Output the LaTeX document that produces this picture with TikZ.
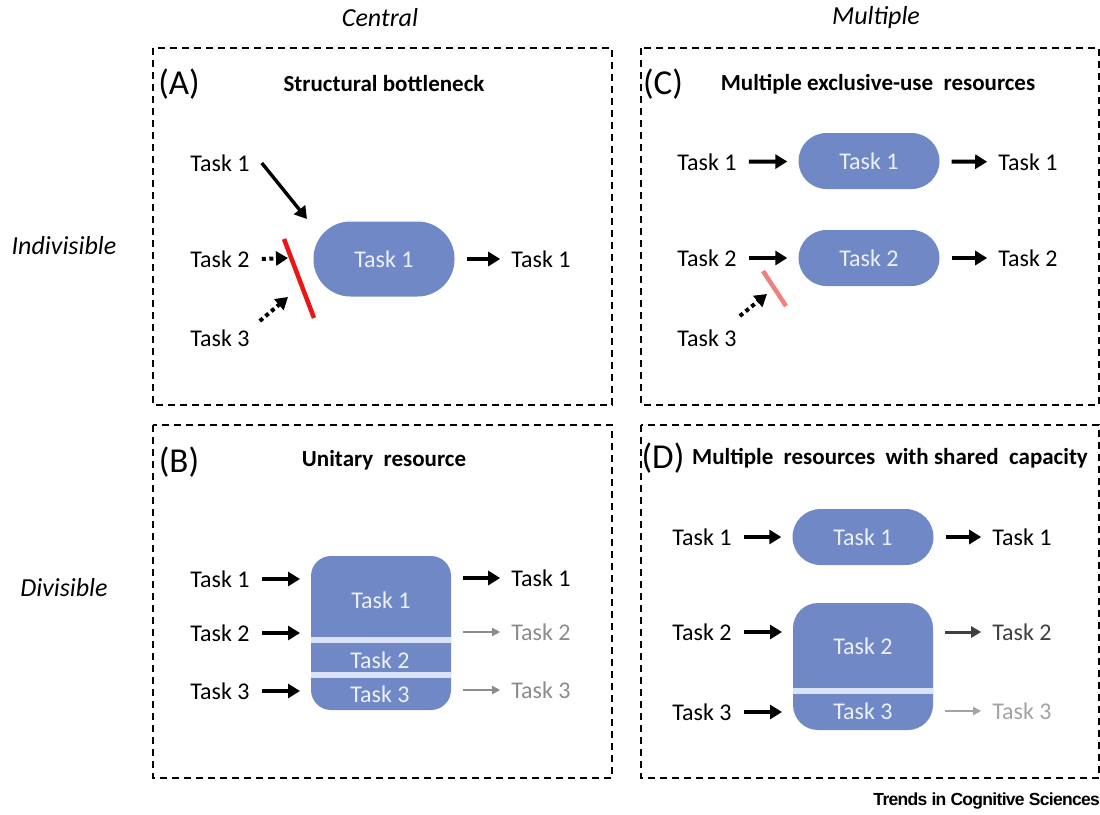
\documentclass[tikz,border=0pt]{standalone}
\usepackage{fontspec}
\setmainfont{Carlito}
\newfontfamily\trendsfont[LetterSpace=-4]{Liberation Sans}
\usetikzlibrary{arrows.meta,calc}

\definecolor{resfill}{RGB}{112,137,198}
\definecolor{resstrip}{RGB}{218,226,246}
\definecolor{restext}{RGB}{236,240,250}
\definecolor{blockred}{RGB}{236,20,20}
\definecolor{blockpink}{RGB}{240,128,128}
\definecolor{fadegray}{RGB}{140,140,140}
\definecolor{darkgray}{RGB}{64,64,64}

\tikzset{
  panel/.style={draw, line width=1.8pt, dash pattern=on 7pt off 5pt},
  tasklbl/.style={inner sep=0pt, font=\fontsize{24}{28}\selectfont},
  title/.style={inner sep=0pt, font=\fontsize{23}{27}\selectfont\bfseries},
  letter/.style={inner sep=0pt, font=\fontsize{35}{40}\selectfont},
  side/.style={inner sep=0pt, font=\fontsize{26}{30}\selectfont\itshape},
  pill/.style={fill=resfill, rounded corners=28pt, minimum width=141pt,
    minimum height=56pt, inner sep=0pt, text=restext,
    font=\fontsize{24}{28}\selectfont},
  restxt/.style={inner sep=0pt, text=restext, font=\fontsize{24}{28}\selectfont},
  bigarrow/.style={line width=4pt, -{Triangle[length=12pt,width=14pt]},
    shorten <=12pt, shorten >=11pt},
  dotarrow/.style={line width=4pt, dash pattern=on 4pt off 3.5pt,
    -{Triangle[length=12pt,width=14pt]}},
  grayarrow/.style={fadegray, line width=1.6pt,
    -{Triangle[length=8pt,width=8pt]}, shorten <=12pt, shorten >=11pt},
  midarrow/.style={darkgray, line width=3pt,
    -{Triangle[length=10pt,width=11pt]}, shorten <=12pt, shorten >=11pt},
}

\begin{document}
\begin{tikzpicture}[x=1pt,y=-1pt]
\useasboundingbox (0,0) rectangle (1100,814);

% column and row headings
\node[side] (hcentral) at (380,18) {Central};
\node[side] (hmultiple) at (876,18) {Multiple};
\node[side] (hindiv) at (64,246) {Indivisible};
\node[side] (hdiv) at (64,588) {Divisible};

% dashed panel frames
\draw[panel] (153,48) rectangle (612,405);
\draw[panel] (641,48) rectangle (1099,405);
\draw[panel] (153,425) rectangle (612,778);
\draw[panel] (641,425) rectangle (1099,778);

% ---------------- (A) structural bottleneck ----------------
\node[letter] (la) at (179,84) {(A)};
\node[title] (ta) at (384,84) {Structural bottleneck};
\node[tasklbl] (a1) at (220,163) {Task 1};
\node[tasklbl] (a2) at (220,259) {Task 2};
\node[tasklbl] (a3) at (220,338) {Task 3};
\node[pill, minimum height=75pt, rounded corners=37pt] (ap) at (384,259) {Task 1};
\node[tasklbl] (ao) at (541,259) {Task 1};
\coordinate (a1end) at (307,219);
\coordinate (a2end) at (288,258);
\coordinate (a3end) at (288,297);
\draw[line width=3.4pt, -{Triangle[length=12pt,width=14pt]}]
  ($(a1.east)+(12,0)$) -- (a1end);
\draw[dotarrow] ($(a2.east)+(12,0)$) -- (a2end);
\draw[dotarrow] ($(a3.east)+(10,-17)$) -- (a3end);
\draw[blockred, line width=4.5pt] (284,239) -- (314,318);
\draw[bigarrow] (ap) -- (ao);

% ---------------- (C) multiple exclusive-use resources ----------------
\node[letter] (lc) at (663,84) {(C)};
\node[title] (tc) at (878,84) {Multiple exclusive-use\ \ resources};
\node[tasklbl] (c1) at (707,162) {Task 1};
\node[tasklbl] (c2) at (707,258) {Task 2};
\node[tasklbl] (c3) at (707,338) {Task 3};
\node[pill] (cp1) at (869,161) {Task 1};
\node[pill] (cp2) at (869,258) {Task 2};
\node[tasklbl] (co1) at (1028,162) {Task 1};
\node[tasklbl] (co2) at (1028,258) {Task 2};
\draw[bigarrow] (c1) -- (cp1);
\draw[bigarrow] (c2) -- (cp2);
\draw[bigarrow] (cp1) -- (co1);
\draw[bigarrow] (cp2) -- (co2);
\coordinate (c3end) at (767,294);
\draw[dotarrow] ($(c3.east)+(3,-22)$) -- (c3end);
\draw[blockpink, line width=4.5pt] (763,271) -- (786,306);

% ---------------- (B) unitary resource ----------------
\node[letter] (lb) at (179,462) {(B)};
\node[title] (tb) at (384,460) {Unitary\ \ resource};
\node[tasklbl] (b1) at (220,579) {Task 1};
\node[tasklbl] (b2) at (220,633) {Task 2};
\node[tasklbl] (b3) at (220,691) {Task 3};
\fill[resfill, rounded corners=20pt] (311,556) rectangle (451,710);
\fill[resstrip] (311,637) rectangle (451,643);
\fill[resstrip] (311,672) rectangle (451,678);
\coordinate (bin1) at (311,579);
\coordinate (bin2) at (311,633);
\coordinate (bin3) at (311,691);
\coordinate (bout1) at (451,578);
\coordinate (bout2) at (451,632);
\coordinate (bout3) at (451,690);
\node[restxt] (bt1) at (381,600) {Task 1};
\node[restxt] (bt2) at (380,660) {Task 2};
\node[restxt] (bt3) at (380,694) {Task 3};
\node[tasklbl] (bo1) at (541,578) {Task 1};
\node[tasklbl, text=fadegray] (bo2) at (541,632) {Task 2};
\node[tasklbl, text=fadegray] (bo3) at (541,690) {Task 3};
\draw[bigarrow] (b1) -- (bin1);
\draw[bigarrow] (b2) -- (bin2);
\draw[bigarrow] (b3) -- (bin3);
\draw[bigarrow] (bout1) -- (bo1);
\draw[grayarrow] (bout2) -- (bo2);
\draw[grayarrow] (bout3) -- (bo3);

% ---------------- (D) multiple resources with shared capacity ----------------
\node[letter] (ld) at (663,458) {(D)};
\node[title] (td) at (890,458) {Multiple\ \ resources\ \ with\ shared\ \ capacity};
\node[tasklbl] (d1) at (702,537) {Task 1};
\node[tasklbl] (d2) at (702,632) {Task 2};
\node[tasklbl] (d3) at (702,712) {Task 3};
\node[pill] (dp1) at (863,537) {Task 1};
\fill[resfill, rounded corners=25pt] (793,603) rectangle (933,730);
\fill[resstrip] (793,688) rectangle (933,694);
\coordinate (din2) at (793,632);
\coordinate (din3) at (793,712);
\coordinate (dout2) at (933,632);
\coordinate (dout3) at (933,711);
\node[restxt] (dt2) at (863,646) {Task 2};
\node[restxt] (dt3) at (863,711) {Task 3};
\node[tasklbl] (do1) at (1022,537) {Task 1};
\node[tasklbl, text=darkgray] (do2) at (1022,632) {Task 2};
\node[tasklbl, text=fadegray!80] (do3) at (1022,711) {Task 3};
\draw[bigarrow] (d1) -- (dp1);
\draw[bigarrow] (d2) -- (din2);
\draw[bigarrow] (d3) -- (din3);
\draw[bigarrow] (dp1) -- (do1);
\draw[midarrow] (dout2) -- (do2);
\draw[grayarrow, fadegray!80] (dout3) -- (do3);

% journal mark
\node[inner sep=0pt, anchor=east, font=\trendsfont\fontsize{17.5}{20}\selectfont\bfseries]
  (journal) at (1100,801) {Trends in Cognitive Sciences};
\end{tikzpicture}
\end{document}
